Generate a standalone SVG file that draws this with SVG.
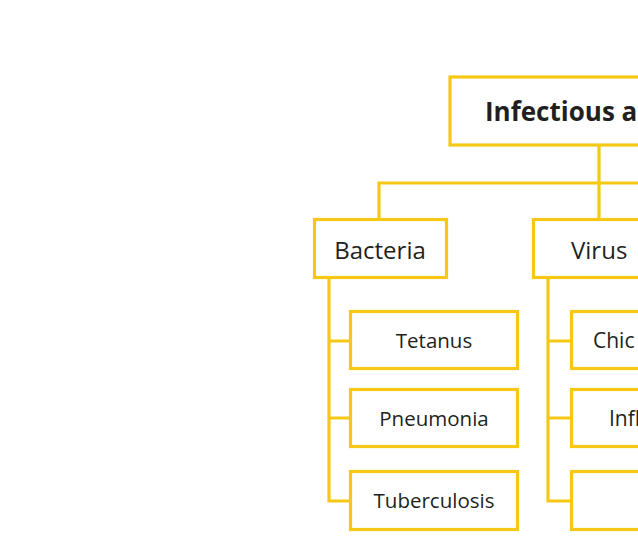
<svg xmlns="http://www.w3.org/2000/svg" width="638" height="547" viewBox="0 0 638 547">
<style>
.box{fill:#fff;stroke:#F5C815;stroke-width:3.2}
.ln{fill:none;stroke:#F5C815;stroke-width:3.2}
.t{font-family:"Open Sans","Noto Sans",sans-serif;fill:#231F20}
.c{font-size:20.5px;text-anchor:middle}
.m{font-size:24px}
</style>
<rect width="638" height="547" fill="#fff"/>
<g id="connectors">
<path class="ln" d="M599 145V219M379 219V183H640"/>
<path class="ln" d="M329 278V501H350M329 341H350M329 418H350"/>
<path class="ln" d="M548 278V501H571M548 341H571M548 418H571"/>
</g>
<g id="root">
<rect class="box" x="450" y="77" width="200" height="68"/>
<text class="t" x="485" y="121" font-size="26" font-weight="bold">Infectious a</text>
</g>
<g id="bacteria">
<rect class="box" x="314.5" y="219.5" width="132" height="58"/>
<text class="t m" x="380" y="259" text-anchor="middle">Bacteria</text>
</g>
<g id="virus">
<rect class="box" x="533.5" y="219.5" width="120" height="58"/>
<text class="t m" x="571" y="259">Virus</text>
</g>
<g id="tetanus">
<rect class="box" x="350.5" y="311.5" width="167" height="57"/>
<text class="t c" x="434" y="348">Tetanus</text>
</g>
<g id="pneumonia">
<rect class="box" x="350.5" y="389.5" width="167" height="57"/>
<text class="t c" x="434" y="426">Pneumonia</text>
</g>
<g id="tuberculosis">
<rect class="box" x="350.5" y="471.5" width="167" height="58"/>
<text class="t c" x="434" y="508">Tuberculosis</text>
</g>
<g id="chic">
<rect class="box" x="571.5" y="311.5" width="100" height="57"/>
<text class="t" x="593" y="348" font-size="21">Chic</text>
</g>
<g id="infl">
<rect class="box" x="571.5" y="389.5" width="100" height="57"/>
<text class="t" x="609" y="426" font-size="21">Infl</text>
</g>
<g id="virus3">
<rect class="box" x="571.5" y="471.5" width="100" height="58"/>
</g>
</svg>
